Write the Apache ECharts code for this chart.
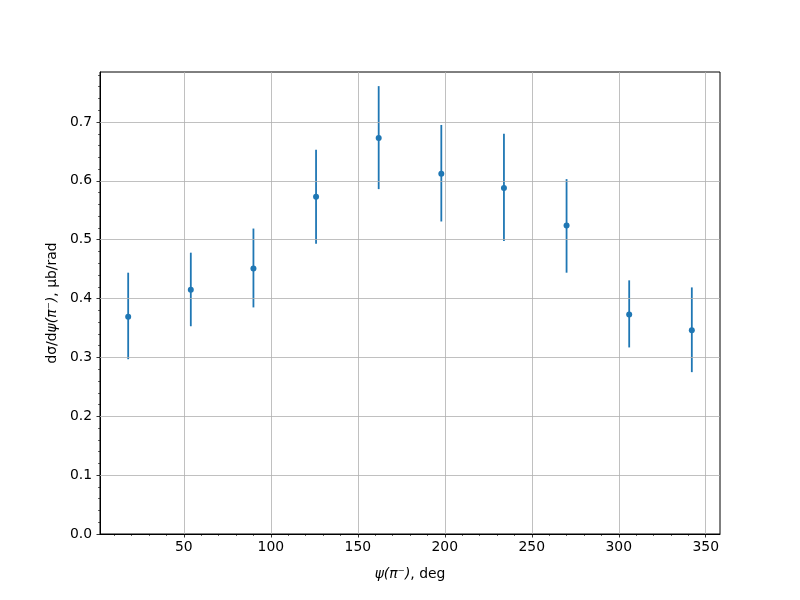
<!DOCTYPE html>
<html><head><meta charset="utf-8">
<script src="https://cdn.jsdelivr.net/npm/echarts@6/dist/echarts.min.js"></script>
<style>html,body{margin:0;padding:0;background:#fff}#c{width:800px;height:600px}</style>
</head><body><div id="c"></div>
<script>
const psi = [18, 54, 90, 126, 162, 198, 234, 270, 306, 342];
const value = [0.369, 0.415, 0.451, 0.573, 0.673, 0.612, 0.588, 0.524, 0.373, 0.346];
const errLow = [0.297, 0.353, 0.385, 0.493, 0.586, 0.531, 0.498, 0.444, 0.317, 0.275];
const errHigh = [0.444, 0.478, 0.519, 0.653, 0.761, 0.695, 0.680, 0.603, 0.431, 0.419];
const xTicks = [50, 100, 150, 200, 250, 300, 350];
const xMinor = [10,20,30,40,60,70,80,90,110,120,130,140,160,170,180,190,210,220,230,240,260,270,280,290,310,320,330,340];
const yTicks = [0, 0.1, 0.2, 0.3, 0.4, 0.5, 0.6, 0.7];
const yMinor = [0.02,0.04,0.06,0.08,0.12,0.14,0.16,0.18,0.22,0.24,0.26,0.28,0.32,0.34,0.36,0.38,0.42,0.44,0.46,0.48,0.52,0.54,0.56,0.58,0.62,0.64,0.66,0.68,0.72,0.74,0.76,0.78];
const X_MIN = 1.8, X_MAX = 358.2, Y_MIN = 0, Y_MAX = 0.785;

const C = '#1f77b4';
const FONT = 'DejaVu Sans';
const FS = 13.9;
const chart = echarts.init(document.getElementById('c'), null, {renderer: 'canvas'});
const errData = psi.map((x, i) => [x, errLow[i], errHigh[i]]);
const ptData = psi.map((x, i) => [x, value[i]]);

chart.setOption({
  animation: false,
  backgroundColor: '#fff',
  grid: {left: 100, right: 80, top: 72, bottom: 66, show: true, borderColor: '#000', borderWidth: 1, backgroundColor: 'transparent'},
  xAxis: [{
    type: 'value', min: X_MIN, max: X_MAX, position: 'bottom',
    name: '{i|ψ(π⁻)}{n|, deg}', nameLocation: 'middle', nameGap: 33,
    nameTextStyle: {rich: {i: {fontFamily: FONT, fontSize: FS, fontStyle: 'italic', color: '#000'}, n: {fontFamily: FONT, fontSize: FS, color: '#000'}}},
    axisLine: {show: true, onZero: false, lineStyle: {color: '#000', width: 1}},
    axisTick: {show: true, inside: false, length: 3.5, customValues: xTicks, lineStyle: {color: '#000', width: 0.8}},
    axisLabel: {customValues: xTicks, margin: 6, fontFamily: FONT, fontSize: FS, color: '#000', formatter: v => String(v)},
    splitLine: {show: false},
    minorTick: {show: false}
  }, {
    type: 'value', min: X_MIN, max: X_MAX, position: 'bottom',
    axisLine: {show: false, onZero: false},
    axisTick: {show: true, inside: false, length: 2, customValues: xMinor, lineStyle: {color: '#000', width: 0.6}},
    axisLabel: {show: false},
    splitLine: {show: false}
  }],
  yAxis: [{
    type: 'value', min: Y_MIN, max: Y_MAX, position: 'left',
    name: '{n|dσ/d}{i|ψ(π⁻)}{n|, μb/rad}', nameLocation: 'middle', nameGap: 37, nameRotate: 90,
    nameTextStyle: {rich: {i: {fontFamily: FONT, fontSize: FS, fontStyle: 'italic', color: '#000'}, n: {fontFamily: FONT, fontSize: FS, color: '#000'}}},
    axisLine: {show: true, onZero: false, lineStyle: {color: '#000', width: 1}},
    axisTick: {show: true, inside: false, length: 3.5, customValues: yTicks, lineStyle: {color: '#000', width: 0.8}},
    axisLabel: {customValues: yTicks, margin: 8, fontFamily: FONT, fontSize: FS, color: '#000', formatter: v => v.toFixed(1)},
    splitLine: {show: false}
  }, {
    type: 'value', min: Y_MIN, max: Y_MAX, position: 'left',
    axisLine: {show: false, onZero: false},
    axisTick: {show: true, inside: false, length: 2, customValues: yMinor, lineStyle: {color: '#000', width: 0.6}},
    axisLabel: {show: false},
    splitLine: {show: false}
  }],
  series: [{
    type: 'line', data: [], xAxisIndex: 0, yAxisIndex: 0, silent: true,
    markLine: {
      silent: true, symbol: ['none', 'none'], label: {show: false},
      lineStyle: {color: '#b0b0b0', width: 0.8, type: 'solid'},
      data: xTicks.map(v => ({xAxis: v})).concat(yTicks.filter(v => v > 0).map(v => ({yAxis: v})))
    },
    z: 1
  }, {
    type: 'custom', xAxisIndex: 0, yAxisIndex: 0, data: errData, z: 3, silent: true,
    renderItem: (params, api) => {
      const p1 = api.coord([api.value(0), api.value(1)]);
      const p2 = api.coord([api.value(0), api.value(2)]);
      return {type: 'line', shape: {x1: p1[0], y1: p1[1], x2: p2[0], y2: p2[1]}, style: {stroke: C, lineWidth: 1.8}};
    }
  }, {
    type: 'scatter', xAxisIndex: 0, yAxisIndex: 0, data: ptData, symbol: 'circle', symbolSize: 6, z: 4,
    itemStyle: {color: C, opacity: 1}, silent: true
  }]
});
</script></body></html>
